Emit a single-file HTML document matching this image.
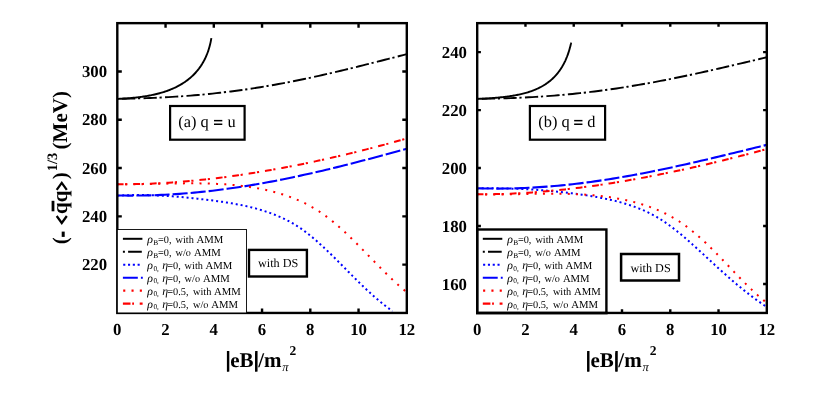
<!DOCTYPE html>
<html><head><meta charset="utf-8"><title>plot</title>
<style>html,body{margin:0;padding:0;background:#fff}svg{display:block;will-change:transform}text{font-family:"Liberation Serif",serif;text-rendering:geometricPrecision}</style></head>
<body>
<svg width="830" height="418" viewBox="0 0 830 418">
<rect x="0" y="0" width="830" height="418" fill="#fff"/>
<defs><clipPath id="cl"><rect x="117.30" y="23.15" width="289.50" height="289.80"/></clipPath><clipPath id="cr"><rect x="477.20" y="23.15" width="289.60" height="289.80"/></clipPath></defs>
<g clip-path="url(#cl)"><path d="M117.70 98.80L118.73 98.86L119.78 98.81L120.82 98.76L121.86 98.70L122.90 98.64L123.93 98.57L124.97 98.50L126.00 98.43L127.03 98.35L128.05 98.27L129.08 98.19L130.10 98.10L131.13 98.01L132.15 97.92L133.17 97.82L134.19 97.71L135.21 97.60L136.23 97.49L137.26 97.37L138.28 97.25L139.30 97.12L140.31 96.99L141.33 96.85L142.35 96.70L143.37 96.55L144.39 96.40L145.41 96.23L146.43 96.07L147.44 95.89L148.46 95.71L149.48 95.52L150.49 95.33L151.51 95.12L152.52 94.91L153.53 94.70L154.54 94.47L155.55 94.24L156.56 93.99L157.57 93.74L158.57 93.48L159.58 93.22L160.58 92.94L161.57 92.65L162.57 92.36L163.56 92.05L164.55 91.74L165.53 91.41L166.51 91.07L167.49 90.73L168.46 90.37L169.43 90.00L170.40 89.62L171.35 89.23L172.31 88.83L173.26 88.42L174.20 87.99L175.13 87.55L176.06 87.11L176.99 86.64L177.90 86.17L178.81 85.68L179.71 85.19L180.61 84.67L181.49 84.15L182.37 83.61L183.24 83.06L184.10 82.50L184.95 81.93L185.79 81.34L186.62 80.73L187.44 80.12L188.25 79.49L189.05 78.85L189.84 78.19L190.62 77.53L191.39 76.85L192.15 76.15L192.89 75.44L193.62 74.72L194.34 73.99L195.05 73.24L195.74 72.49L196.43 71.71L197.10 70.93L197.75 70.13L198.39 69.33L199.02 68.51L199.63 67.67L200.23 66.83L200.82 65.98L201.39 65.11L201.95 64.24L202.49 63.35L203.02 62.45L203.53 61.55L204.03 60.63L204.51 59.71L204.98 58.77L205.43 57.83L205.87 56.88L206.29 55.93L206.70 54.97L207.09 54.00L207.47 53.02L207.83 52.04L208.18 51.06L208.51 50.07L208.82 49.08L209.12 48.08L209.41 47.09L209.68 46.09L209.94 45.09L210.18 44.09L210.41 43.09L210.62 42.10L210.82 41.10L211.01 40.11L211.18 39.13L211.40 38.10" fill="none" stroke="#000" stroke-width="1.9"/>
<path d="M117.30 98.88L120.96 98.82L124.63 98.75L128.29 98.67L131.96 98.58L135.62 98.48L139.29 98.37L142.95 98.26L146.62 98.13L150.28 97.99L153.95 97.84L157.61 97.67L161.27 97.50L164.94 97.31L168.60 97.11L172.27 96.89L175.93 96.67L179.60 96.42L183.26 96.17L186.93 95.90L190.59 95.61L194.26 95.31L197.92 94.99L201.58 94.66L205.25 94.32L208.91 93.96L212.58 93.58L216.24 93.18L219.91 92.78L223.57 92.35L227.24 91.91L230.90 91.45L234.57 90.98L238.23 90.49L241.89 89.98L245.56 89.46L249.22 88.92L252.89 88.37L256.55 87.80L260.22 87.21L263.88 86.61L267.55 85.99L271.21 85.36L274.88 84.71L278.54 84.05L282.21 83.37L285.87 82.68L289.53 81.97L293.20 81.25L296.86 80.52L300.53 79.77L304.19 79.01L307.86 78.24L311.52 77.45L315.19 76.65L318.85 75.84L322.52 75.02L326.18 74.19L329.84 73.34L333.51 72.49L337.17 71.63L340.84 70.75L344.50 69.87L348.17 68.98L351.83 68.09L355.50 67.18L359.16 66.28L362.83 65.36L366.49 64.44L370.15 63.51L373.82 62.59L377.48 61.65L381.15 60.72L384.81 59.78L388.48 58.84L392.14 57.91L395.81 56.97L399.47 56.03L403.14 55.10L406.80 54.16" fill="none" stroke="#000" stroke-width="1.9" stroke-dasharray="13.25 2.75 2.2 3.32" stroke-dashoffset="16.8"/>
<path d="M117.48 195.67L119.07 195.58L120.66 195.49L122.25 195.41L123.83 195.34L125.42 195.28L127.00 195.22L128.58 195.17L130.16 195.13L131.74 195.09L133.32 195.06L134.89 195.04L136.47 195.03L138.04 195.02L139.61 195.02L141.19 195.02L142.76 195.03L144.32 195.05L145.89 195.07L147.46 195.10L149.03 195.14L150.59 195.18L152.15 195.22L153.72 195.28L155.28 195.33L156.84 195.40L158.40 195.47L159.97 195.54L161.53 195.62L163.09 195.71L164.64 195.80L166.20 195.89L167.76 195.99L169.32 196.09L170.88 196.20L172.43 196.32L173.99 196.43L175.55 196.56L177.11 196.68L178.66 196.81L180.22 196.95L181.78 197.09L183.33 197.23L184.89 197.38L186.45 197.53L188.00 197.68L189.56 197.84L191.12 198.00L192.68 198.16L194.23 198.33L195.79 198.50L197.35 198.67L198.91 198.85L200.47 199.03L202.03 199.21L203.59 199.40L205.15 199.59L206.72 199.78L208.28 199.97L209.84 200.16L211.41 200.36L212.97 200.56L214.54 200.77L216.10 200.98L217.67 201.19L219.23 201.41L220.80 201.63L222.36 201.85L223.93 202.08L225.49 202.32L227.05 202.56L228.61 202.81L230.17 203.07L231.73 203.33L233.28 203.60L234.84 203.87L236.39 204.16L237.94 204.45L239.49 204.75L241.04 205.05L242.58 205.37L244.12 205.70L245.66 206.03L247.19 206.37L248.73 206.73L250.26 207.09L251.78 207.46L253.30 207.85L254.82 208.24L256.34 208.65L257.85 209.07L259.36 209.50L260.86 209.94L262.36 210.39L263.85 210.86L265.34 211.34L266.83 211.83L268.31 212.34L269.78 212.86L271.25 213.39L272.72 213.94L274.18 214.50L275.63 215.08L277.08 215.67L278.52 216.28L279.95 216.90L281.37 217.54L282.79 218.19L284.20 218.86L285.60 219.55L287.00 220.25L288.38 220.97L289.76 221.70L291.12 222.45L292.48 223.22L293.83 224.01L295.16 224.81L296.49 225.63L297.80 226.47L299.11 227.32L300.40 228.19L301.69 229.08L302.96 229.99L304.23 230.90L305.48 231.84L306.73 232.78L307.97 233.74L309.20 234.71L310.42 235.70L311.63 236.69L312.84 237.69L314.04 238.71L315.23 239.73L316.42 240.76L317.60 241.80L318.78 242.85L319.95 243.90L321.11 244.96L322.27 246.02L323.42 247.09L324.57 248.16L325.72 249.24L326.86 250.33L328.00 251.42L329.13 252.51L330.26 253.60L331.39 254.70L332.51 255.80L333.64 256.91L334.75 258.02L335.87 259.13L336.99 260.24L338.10 261.36L339.21 262.47L340.32 263.59L341.43 264.71L342.54 265.83L343.64 266.95L344.75 268.07L345.86 269.19L346.96 270.31L348.07 271.43L349.18 272.55L350.28 273.67L351.39 274.79L352.50 275.90L353.61 277.02L354.72 278.13L355.84 279.24L356.96 280.35L358.07 281.45L359.19 282.56L360.32 283.66L361.44 284.75L362.57 285.84L363.71 286.93L364.84 288.01L365.98 289.09L367.13 290.17L368.28 291.24L369.43 292.30L370.59 293.36L371.75 294.41L372.92 295.46L374.09 296.50L375.27 297.53L376.46 298.56L377.65 299.57L378.85 300.59L380.05 301.59L381.26 302.59L382.48 303.58L383.70 304.56L384.94 305.53L386.18 306.49L387.42 307.44L388.68 308.39L389.94 309.32L391.22 310.24L392.50 311.16" fill="none" stroke="#0000ff" stroke-width="2.0" stroke-dasharray="2.0 2.96" stroke-dashoffset="0.25"/>
<path d="M117.30 195.42L120.96 195.49L124.63 195.55L128.29 195.58L131.96 195.59L135.62 195.58L139.29 195.55L142.95 195.49L146.62 195.42L150.28 195.33L153.95 195.21L157.61 195.08L161.27 194.92L164.94 194.74L168.60 194.55L172.27 194.33L175.93 194.10L179.60 193.84L183.26 193.57L186.93 193.27L190.59 192.96L194.26 192.63L197.92 192.28L201.58 191.91L205.25 191.52L208.91 191.12L212.58 190.69L216.24 190.25L219.91 189.79L223.57 189.31L227.24 188.82L230.90 188.31L234.57 187.78L238.23 187.23L241.89 186.67L245.56 186.09L249.22 185.50L252.89 184.89L256.55 184.26L260.22 183.62L263.88 182.97L267.55 182.30L271.21 181.61L274.88 180.91L278.54 180.20L282.21 179.47L285.87 178.73L289.53 177.98L293.20 177.21L296.86 176.43L300.53 175.64L304.19 174.84L307.86 174.02L311.52 173.19L315.19 172.36L318.85 171.51L322.52 170.65L326.18 169.78L329.84 168.90L333.51 168.01L337.17 167.11L340.84 166.21L344.50 165.29L348.17 164.37L351.83 163.44L355.50 162.50L359.16 161.56L362.83 160.60L366.49 159.64L370.15 158.68L373.82 157.71L377.48 156.74L381.15 155.76L384.81 154.77L388.48 153.78L392.14 152.79L395.81 151.80L399.47 150.80L403.14 149.80L406.80 148.79" fill="none" stroke="#0000ff" stroke-width="2.1" stroke-dasharray="15.1 3.0" stroke-dashoffset="17.1"/>
<path d="M117.57 184.19L119.19 184.22L120.82 184.24L122.44 184.25L124.07 184.26L125.69 184.26L127.32 184.27L128.95 184.27L130.58 184.26L132.21 184.25L133.84 184.24L135.47 184.23L137.10 184.21L138.73 184.19L140.37 184.17L142.00 184.14L143.63 184.12L145.27 184.09L146.90 184.06L148.54 184.03L150.17 184.00L151.81 183.96L153.45 183.93L155.08 183.89L156.72 183.86L158.36 183.82L160.00 183.79L161.63 183.75L163.27 183.72L164.91 183.68L166.55 183.65L168.19 183.61L169.83 183.58L171.47 183.55L173.11 183.52L174.75 183.49L176.39 183.46L178.03 183.44L179.67 183.41L181.31 183.39L182.95 183.38L184.59 183.36L186.23 183.35L187.87 183.34L189.51 183.33L191.15 183.33L192.79 183.33L194.43 183.33L196.07 183.34L197.71 183.35L199.35 183.37L200.99 183.39L202.63 183.41L204.27 183.45L205.91 183.48L207.55 183.52L209.19 183.57L210.83 183.62L212.47 183.68L214.11 183.74L215.74 183.81L217.38 183.88L219.02 183.97L220.65 184.06L222.29 184.15L223.93 184.26L225.56 184.37L227.20 184.48L228.83 184.61L230.47 184.74L232.10 184.88L233.73 185.03L235.36 185.19L237.00 185.36L238.63 185.53L240.26 185.71L241.89 185.91L243.52 186.11L245.15 186.32L246.77 186.54L248.40 186.77L250.03 187.01L251.65 187.27L253.28 187.53L254.90 187.80L256.52 188.08L258.14 188.38L259.76 188.68L261.38 189.00L262.99 189.33L264.60 189.67L266.21 190.02L267.82 190.38L269.42 190.76L271.02 191.15L272.61 191.55L274.20 191.96L275.79 192.39L277.37 192.83L278.95 193.28L280.52 193.75L282.08 194.23L283.64 194.72L285.20 195.23L286.75 195.75L288.29 196.29L289.83 196.84L291.36 197.41L292.88 197.99L294.39 198.59L295.90 199.20L297.40 199.83L298.89 200.47L300.38 201.13L301.85 201.81L303.32 202.50L304.78 203.21L306.23 203.94L307.67 204.68L309.10 205.44L310.52 206.22L311.93 207.01L313.33 207.82L314.72 208.65L316.10 209.50L317.47 210.36L318.83 211.24L320.18 212.14L321.52 213.05L322.85 213.97L324.17 214.91L325.49 215.87L326.79 216.84L328.09 217.82L329.38 218.81L330.66 219.82L331.93 220.84L333.20 221.87L334.46 222.91L335.71 223.96L336.96 225.02L338.20 226.10L339.43 227.18L340.66 228.27L341.88 229.37L343.10 230.48L344.31 231.59L345.52 232.71L346.72 233.84L347.91 234.98L349.10 236.12L350.29 237.27L351.47 238.42L352.65 239.57L353.83 240.74L355.00 241.90L356.17 243.07L357.34 244.24L358.50 245.42L359.66 246.59L360.82 247.77L361.97 248.95L363.13 250.13L364.28 251.31L365.43 252.49L366.58 253.67L367.73 254.85L368.88 256.03L370.02 257.21L371.17 258.39L372.32 259.57L373.46 260.74L374.61 261.92L375.76 263.09L376.91 264.26L378.06 265.43L379.21 266.59L380.36 267.75L381.52 268.91L382.67 270.07L383.83 271.22L385.00 272.37L386.16 273.52L387.33 274.66L388.50 275.79L389.67 276.93L390.85 278.05L392.03 279.17L393.22 280.29L394.41 281.40L395.60 282.51L396.80 283.61L398.01 284.70L399.22 285.79L400.43 286.87L401.66 287.94L402.88 289.01L404.12 290.06L405.36 291.12L406.61 292.16" fill="none" stroke="#ff0000" stroke-width="2.0" stroke-dasharray="2.0 6.27" stroke-dashoffset="0.75"/>
<path d="M117.30 184.17L120.96 184.19L124.63 184.19L128.29 184.18L131.96 184.14L135.62 184.08L139.29 184.00L142.95 183.90L146.62 183.78L150.28 183.64L153.95 183.48L157.61 183.31L161.27 183.11L164.94 182.90L168.60 182.67L172.27 182.42L175.93 182.15L179.60 181.87L183.26 181.57L186.93 181.26L190.59 180.93L194.26 180.58L197.92 180.22L201.58 179.84L205.25 179.44L208.91 179.03L212.58 178.61L216.24 178.17L219.91 177.72L223.57 177.25L227.24 176.77L230.90 176.27L234.57 175.76L238.23 175.24L241.89 174.70L245.56 174.15L249.22 173.59L252.89 173.01L256.55 172.43L260.22 171.83L263.88 171.21L267.55 170.59L271.21 169.95L274.88 169.30L278.54 168.64L282.21 167.96L285.87 167.28L289.53 166.58L293.20 165.87L296.86 165.15L300.53 164.42L304.19 163.68L307.86 162.92L311.52 162.16L315.19 161.38L318.85 160.59L322.52 159.79L326.18 158.98L329.84 158.16L333.51 157.33L337.17 156.49L340.84 155.64L344.50 154.77L348.17 153.90L351.83 153.01L355.50 152.12L359.16 151.21L362.83 150.29L366.49 149.36L370.15 148.42L373.82 147.47L377.48 146.51L381.15 145.54L384.81 144.55L388.48 143.56L392.14 142.55L395.81 141.53L399.47 140.51L403.14 139.47L406.80 138.41" fill="none" stroke="#ff0000" stroke-width="2.0" stroke-dasharray="6.75 1.7 2.15 5.95" stroke-dashoffset="0.5"/></g>
<rect x="117.30" y="23.15" width="289.50" height="289.80" fill="none" stroke="#000" stroke-width="2.4"/>
<path d="M165.55 23.15 v4.50 M165.55 312.95 v-4.50 M213.80 23.15 v4.50 M213.80 312.95 v-4.50 M262.05 23.15 v4.50 M262.05 312.95 v-4.50 M310.30 23.15 v4.50 M310.30 312.95 v-4.50 M358.55 23.15 v4.50 M358.55 312.95 v-4.50 M117.30 264.65 h4.50 M406.80 264.65 h-4.50 M117.30 216.35 h4.50 M406.80 216.35 h-4.50 M117.30 168.05 h4.50 M406.80 168.05 h-4.50 M117.30 119.75 h4.50 M406.80 119.75 h-4.50 M117.30 71.45 h4.50 M406.80 71.45 h-4.50 " stroke="#000" stroke-width="2.4" fill="none"/>
<g font-family="'Liberation Serif', serif" font-weight="bold" font-size="16.8px" fill="#000">
<text x="117.30" y="334.7" text-anchor="middle">0</text>
<text x="165.55" y="334.7" text-anchor="middle">2</text>
<text x="213.80" y="334.7" text-anchor="middle">4</text>
<text x="262.05" y="334.7" text-anchor="middle">6</text>
<text x="310.30" y="334.7" text-anchor="middle">8</text>
<text x="358.55" y="334.7" text-anchor="middle">10</text>
<text x="406.80" y="334.7" text-anchor="middle">12</text>
<text x="107.10" y="270.25" text-anchor="end">220</text>
<text x="107.10" y="221.95" text-anchor="end">240</text>
<text x="107.10" y="173.65" text-anchor="end">260</text>
<text x="107.10" y="125.35" text-anchor="end">280</text>
<text x="107.10" y="77.05" text-anchor="end">300</text>
</g>
<rect x="117.30" y="229.50" width="129.20" height="83.45" fill="#fff" stroke="#000" stroke-width="0.9"/>
<path d="M122.90 238.80 H142.40" stroke="#000" stroke-width="2.0"/>
<path d="M122.90 251.76 h2 M128.10 251.76 H141.80" stroke="#000" stroke-width="1.9"/>
<path d="M123.20 264.72 H142.40" stroke="#0000ff" stroke-width="2.1" stroke-dasharray="2.1 2.7"/>
<path d="M122.90 277.68 h14.9 M140.90 277.68 h1.9" stroke="#0000ff" stroke-width="2.1"/>
<path d="M123.20 290.64 H143.40" stroke="#ff0000" stroke-width="2.1" stroke-dasharray="2.1 6.2"/>
<path d="M122.90 303.60 h7.6 M132.20 303.60 h1.8 M139.70 303.60 h2.9" stroke="#ff0000" stroke-width="2.1"/>
<g font-family="'Liberation Serif', serif" font-size="10.3px" fill="#000">
<text x="147.30" y="243.10" font-style="italic" font-size="11.8px">ρ</text>
<text x="153.30" y="244.60" font-size="7.4px">B</text>
<text x="158.00" y="243.10">=0,</text>
<text x="175.50" y="243.10">with</text>
<text x="196.60" y="243.10" font-size="10.7px">AMM</text>
<text x="147.30" y="256.06" font-style="italic" font-size="11.8px">ρ</text>
<text x="153.30" y="257.56" font-size="7.4px">B</text>
<text x="158.00" y="256.06">=0,</text>
<text x="175.50" y="256.06">w/o</text>
<text x="194.00" y="256.06" font-size="10.7px">AMM</text>
<text x="147.30" y="269.02" font-style="italic" font-size="11.8px">ρ</text>
<text x="153.40" y="270.52" font-size="7.4px">0,</text>
<text x="162.30" y="269.02" font-style="italic" font-size="11.8px">η</text>
<text x="167.30" y="269.02">=0,</text>
<text x="184.60" y="269.02">with</text>
<text x="205.60" y="269.02" font-size="10.7px">AMM</text>
<text x="147.30" y="281.98" font-style="italic" font-size="11.8px">ρ</text>
<text x="153.40" y="283.48" font-size="7.4px">0,</text>
<text x="162.30" y="281.98" font-style="italic" font-size="11.8px">η</text>
<text x="167.30" y="281.98">=0,</text>
<text x="184.60" y="281.98">w/o</text>
<text x="203.00" y="281.98" font-size="10.7px">AMM</text>
<text x="147.30" y="294.94" font-style="italic" font-size="11.8px">ρ</text>
<text x="153.40" y="296.44" font-size="7.4px">0,</text>
<text x="162.30" y="294.94" font-style="italic" font-size="11.8px">η</text>
<text x="167.30" y="294.94">=0.5,</text>
<text x="193.00" y="294.94">with</text>
<text x="214.10" y="294.94" font-size="10.7px">AMM</text>
<text x="147.30" y="307.90" font-style="italic" font-size="11.8px">ρ</text>
<text x="153.40" y="309.40" font-size="7.4px">0,</text>
<text x="162.30" y="307.90" font-style="italic" font-size="11.8px">η</text>
<text x="167.30" y="307.90">=0.5,</text>
<text x="193.00" y="307.90">w/o</text>
<text x="211.30" y="307.90" font-size="10.7px">AMM</text>
</g>
<rect x="170.10" y="106.00" width="74.50" height="33.70" fill="#fff" stroke="#000" stroke-width="2.2"/><text x="178.30" y="126.60" font-family="'Liberation Serif', serif" font-size="16.4px" fill="#000">(a) q</text><rect x="214.00" y="119.9" width="8.3" height="1.5"/><rect x="214.00" y="123.5" width="8.3" height="1.5"/><text x="227.50" y="126.60" font-family="'Liberation Serif', serif" font-size="16.4px" fill="#000">u</text>
<rect x="249.00" y="249.90" width="57.90" height="26.60" fill="#fff" stroke="#000" stroke-width="2.4"/><text x="258.00" y="267.10" font-family="'Liberation Serif', serif" font-size="12.2px" fill="#000">with DS</text>
<g font-family="'Liberation Serif', serif" fill="#000"><text x="225.60" y="366.7" font-weight="bold" font-size="21px">|eB|/m</text><rect x="226.90" y="351.0" width="2.4" height="20.6"/><rect x="255.15" y="351.0" width="2.4" height="20.6"/><text x="282.20" y="371.0" font-style="italic" font-size="12.5px">π</text><text x="289.60" y="355.2" font-weight="bold" font-size="13.5px">2</text></g>
<g transform="translate(67.40 244.3) rotate(-90)" font-family="'Liberation Serif', serif" font-weight="bold" fill="#000"><text x="0" y="0" font-size="21px">(</text><rect x="7.4" y="-5.7" width="5.3" height="3.0"/><path d="M28.3 -10.7 L21.3 -5.65 L28.3 -0.6" fill="none" stroke="#000" stroke-width="2.2" stroke-linejoin="miter"/><text x="30.25" y="0" font-size="21px">qq</text><path d="M54.5 -10.7 L61.5 -5.65 L54.5 -0.6" fill="none" stroke="#000" stroke-width="2.2" stroke-linejoin="miter"/><text x="65.0" y="0" font-size="21px">)</text><rect x="33.0" y="-15.8" width="10.5" height="2.8"/><text x="73.0" y="-10.4" font-size="14.4px">1/3</text><text x="94.9" y="0" font-size="21px">(MeV)</text></g>
<g clip-path="url(#cr)"><path d="M477.70 98.80L478.73 98.85L479.75 98.82L480.76 98.78L481.78 98.73L482.79 98.68L483.80 98.63L484.81 98.58L485.81 98.52L486.82 98.46L487.82 98.40L488.82 98.33L489.83 98.26L490.83 98.19L491.83 98.11L492.83 98.03L493.83 97.95L494.84 97.87L495.84 97.78L496.84 97.69L497.84 97.60L498.85 97.50L499.85 97.40L500.86 97.30L501.86 97.19L502.87 97.08L503.87 96.96L504.88 96.84L505.89 96.72L506.89 96.59L507.90 96.46L508.91 96.32L509.91 96.17L510.92 96.02L511.93 95.86L512.93 95.70L513.94 95.53L514.94 95.35L515.94 95.17L516.95 94.98L517.95 94.78L518.94 94.57L519.94 94.36L520.93 94.13L521.93 93.90L522.92 93.66L523.90 93.41L524.89 93.15L525.87 92.88L526.84 92.60L527.81 92.31L528.78 92.00L529.75 91.69L530.70 91.37L531.66 91.03L532.61 90.68L533.55 90.32L534.48 89.95L535.41 89.56L536.34 89.16L537.25 88.75L538.16 88.33L539.07 87.89L539.96 87.44L540.85 86.97L541.72 86.49L542.59 86.00L543.45 85.49L544.30 84.97L545.15 84.43L545.98 83.88L546.80 83.31L547.61 82.73L548.41 82.13L549.20 81.52L549.98 80.89L550.75 80.25L551.50 79.59L552.25 78.92L552.98 78.24L553.70 77.54L554.40 76.82L555.10 76.09L555.78 75.35L556.45 74.59L557.10 73.82L557.74 73.03L558.37 72.23L558.99 71.42L559.59 70.60L560.17 69.76L560.74 68.91L561.30 68.05L561.85 67.18L562.38 66.29L562.89 65.40L563.39 64.50L563.88 63.59L564.35 62.67L564.81 61.74L565.26 60.80L565.68 59.86L566.10 58.91L566.50 57.95L566.89 57.00L567.26 56.03L567.62 55.07L567.97 54.10L568.30 53.14L568.62 52.17L568.93 51.20L569.23 50.24L569.51 49.28L569.78 48.32L570.04 47.37L570.28 46.43L570.52 45.49L570.74 44.57L570.96 43.65L571.10 42.60" fill="none" stroke="#000" stroke-width="1.9"/>
<path d="M477.20 98.74L480.87 98.72L484.53 98.68L488.20 98.64L491.86 98.58L495.53 98.51L499.19 98.43L502.86 98.34L506.53 98.23L510.19 98.11L513.86 97.98L517.52 97.83L521.19 97.67L524.86 97.50L528.52 97.31L532.19 97.11L535.85 96.90L539.52 96.67L543.18 96.42L546.85 96.16L550.52 95.89L554.18 95.60L557.85 95.30L561.51 94.98L565.18 94.65L568.85 94.30L572.51 93.94L576.18 93.57L579.84 93.17L583.51 92.77L587.17 92.34L590.84 91.91L594.51 91.46L598.17 90.99L601.84 90.51L605.50 90.01L609.17 89.50L612.84 88.98L616.50 88.44L620.17 87.89L623.83 87.32L627.50 86.74L631.16 86.15L634.83 85.54L638.50 84.92L642.16 84.28L645.83 83.64L649.49 82.98L653.16 82.31L656.83 81.62L660.49 80.93L664.16 80.22L667.82 79.50L671.49 78.77L675.15 78.03L678.82 77.28L682.49 76.52L686.15 75.75L689.82 74.97L693.48 74.19L697.15 73.39L700.82 72.59L704.48 71.77L708.15 70.96L711.81 70.13L715.48 69.30L719.14 68.46L722.81 67.62L726.48 66.77L730.14 65.92L733.81 65.06L737.47 64.20L741.14 63.34L744.81 62.47L748.47 61.61L752.14 60.74L755.80 59.87L759.47 59.01L763.13 58.14L766.80 57.27" fill="none" stroke="#000" stroke-width="1.9" stroke-dasharray="13.25 2.75 2.2 3.32" stroke-dashoffset="16.8"/>
<path d="M477.50 188.42L479.15 188.39L480.79 188.37L482.44 188.35L484.08 188.33L485.73 188.32L487.37 188.31L489.01 188.31L490.65 188.31L492.29 188.31L493.93 188.32L495.57 188.33L497.21 188.34L498.85 188.36L500.49 188.38L502.12 188.40L503.76 188.43L505.40 188.46L507.03 188.50L508.67 188.54L510.30 188.58L511.93 188.63L513.57 188.68L515.20 188.74L516.83 188.80L518.46 188.86L520.09 188.93L521.72 189.00L523.36 189.08L524.99 189.16L526.62 189.24L528.25 189.33L529.87 189.42L531.50 189.52L533.13 189.62L534.76 189.72L536.39 189.83L538.02 189.95L539.65 190.06L541.27 190.18L542.90 190.31L544.53 190.44L546.16 190.57L547.78 190.71L549.41 190.85L551.04 191.00L552.67 191.15L554.29 191.31L555.92 191.47L557.55 191.63L559.17 191.80L560.80 191.98L562.43 192.16L564.06 192.34L565.69 192.53L567.31 192.72L568.94 192.91L570.57 193.12L572.20 193.32L573.83 193.53L575.46 193.75L577.08 193.97L578.71 194.19L580.34 194.42L581.97 194.65L583.60 194.89L585.23 195.13L586.86 195.38L588.49 195.64L590.12 195.90L591.75 196.16L593.38 196.44L595.01 196.72L596.63 197.01L598.26 197.30L599.88 197.60L601.50 197.91L603.11 198.23L604.73 198.56L606.34 198.90L607.95 199.24L609.56 199.60L611.16 199.96L612.76 200.34L614.36 200.73L615.95 201.12L617.54 201.53L619.12 201.95L620.70 202.38L622.27 202.82L623.84 203.28L625.41 203.75L626.97 204.23L628.52 204.72L630.07 205.23L631.61 205.75L633.14 206.28L634.67 206.83L636.19 207.40L637.71 207.97L639.21 208.57L640.72 209.18L642.21 209.80L643.69 210.44L645.17 211.10L646.64 211.78L648.10 212.47L649.55 213.18L651.00 213.90L652.43 214.65L653.86 215.41L655.27 216.19L656.68 216.99L658.08 217.81L659.46 218.65L660.84 219.51L662.21 220.38L663.57 221.27L664.92 222.18L666.26 223.10L667.60 224.04L668.92 224.99L670.24 225.95L671.55 226.93L672.86 227.92L674.15 228.92L675.45 229.94L676.73 230.96L678.01 231.99L679.28 233.03L680.55 234.08L681.81 235.14L683.07 236.21L684.33 237.28L685.57 238.35L686.82 239.44L688.06 240.52L689.30 241.61L690.53 242.71L691.76 243.80L692.99 244.90L694.22 246.00L695.44 247.11L696.66 248.21L697.88 249.32L699.09 250.43L700.31 251.54L701.52 252.66L702.73 253.77L703.94 254.88L705.15 256.00L706.36 257.11L707.57 258.23L708.78 259.34L709.98 260.46L711.19 261.57L712.40 262.68L713.61 263.79L714.81 264.90L716.02 266.01L717.23 267.12L718.44 268.22L719.65 269.32L720.87 270.42L722.08 271.52L723.30 272.61L724.51 273.70L725.73 274.79L726.96 275.87L728.18 276.95L729.41 278.03L730.64 279.10L731.87 280.17L733.11 281.24L734.35 282.30L735.59 283.36L736.84 284.41L738.09 285.46L739.34 286.50L740.60 287.54L741.86 288.57L743.13 289.60L744.40 290.62L745.67 291.64L746.95 292.65L748.24 293.66L749.53 294.66L750.83 295.65L752.13 296.64L753.44 297.62L754.75 298.60L756.07 299.57L757.40 300.53L758.73 301.48L760.07 302.43L761.42 303.37L762.77 304.30L764.14 305.23L765.50 306.15L766.88 307.06" fill="none" stroke="#0000ff" stroke-width="2.0" stroke-dasharray="2.0 2.96" stroke-dashoffset="0.75"/>
<path d="M477.20 188.24L480.87 188.35L484.53 188.44L488.20 188.51L491.86 188.55L495.53 188.58L499.19 188.58L502.86 188.56L506.53 188.51L510.19 188.45L513.86 188.36L517.52 188.26L521.19 188.13L524.86 187.98L528.52 187.80L532.19 187.61L535.85 187.40L539.52 187.17L543.18 186.92L546.85 186.64L550.52 186.35L554.18 186.04L557.85 185.71L561.51 185.36L565.18 184.99L568.85 184.61L572.51 184.20L576.18 183.78L579.84 183.34L583.51 182.88L587.17 182.41L590.84 181.92L594.51 181.41L598.17 180.88L601.84 180.34L605.50 179.79L609.17 179.22L612.84 178.63L616.50 178.03L620.17 177.41L623.83 176.78L627.50 176.14L631.16 175.48L634.83 174.81L638.50 174.12L642.16 173.43L645.83 172.72L649.49 172.00L653.16 171.26L656.83 170.52L660.49 169.76L664.16 169.00L667.82 168.22L671.49 167.44L675.15 166.64L678.82 165.84L682.49 165.03L686.15 164.21L689.82 163.38L693.48 162.54L697.15 161.70L700.82 160.85L704.48 159.99L708.15 159.13L711.81 158.26L715.48 157.38L719.14 156.51L722.81 155.62L726.48 154.74L730.14 153.85L733.81 152.95L737.47 152.06L741.14 151.16L744.81 150.26L748.47 149.36L752.14 148.46L755.80 147.56L759.47 146.66L763.13 145.76L766.80 144.86" fill="none" stroke="#0000ff" stroke-width="2.1" stroke-dasharray="15.1 3.0" stroke-dashoffset="17.1"/>
<path d="M477.54 194.30L479.17 194.34L480.81 194.37L482.44 194.40L484.08 194.42L485.72 194.43L487.35 194.45L488.99 194.46L490.63 194.46L492.27 194.46L493.90 194.46L495.54 194.46L497.18 194.45L498.82 194.44L500.46 194.42L502.10 194.41L503.74 194.39L505.38 194.37L507.02 194.34L508.66 194.32L510.30 194.29L511.94 194.26L513.58 194.24L515.22 194.21L516.86 194.18L518.51 194.14L520.15 194.11L521.79 194.08L523.43 194.05L525.07 194.02L526.71 193.99L528.36 193.95L530.00 193.92L531.64 193.89L533.28 193.87L534.92 193.84L536.57 193.81L538.21 193.79L539.85 193.77L541.49 193.75L543.13 193.73L544.78 193.72L546.42 193.70L548.06 193.69L549.70 193.69L551.34 193.68L552.99 193.68L554.63 193.69L556.27 193.70L557.91 193.71L559.55 193.72L561.19 193.74L562.83 193.77L564.48 193.80L566.12 193.83L567.76 193.87L569.40 193.91L571.04 193.96L572.68 194.02L574.32 194.08L575.96 194.15L577.60 194.22L579.24 194.30L580.87 194.39L582.51 194.48L584.15 194.58L585.79 194.69L587.43 194.81L589.07 194.93L590.70 195.06L592.34 195.20L593.98 195.34L595.61 195.50L597.25 195.66L598.88 195.84L600.52 196.02L602.15 196.21L603.79 196.41L605.42 196.62L607.06 196.83L608.69 197.06L610.32 197.30L611.96 197.55L613.59 197.81L615.22 198.08L616.85 198.36L618.47 198.65L620.10 198.96L621.72 199.27L623.35 199.60L624.97 199.94L626.58 200.29L628.19 200.65L629.80 201.02L631.41 201.41L633.01 201.81L634.61 202.22L636.20 202.65L637.79 203.09L639.38 203.54L640.96 204.01L642.53 204.49L644.10 204.98L645.66 205.49L647.21 206.01L648.76 206.55L650.30 207.10L651.84 207.67L653.37 208.25L654.89 208.85L656.40 209.46L657.90 210.09L659.40 210.73L660.89 211.39L662.37 212.07L663.84 212.77L665.30 213.48L666.75 214.20L668.19 214.95L669.62 215.71L671.04 216.49L672.45 217.29L673.85 218.10L675.24 218.93L676.61 219.78L677.98 220.65L679.34 221.53L680.68 222.43L682.02 223.34L683.35 224.27L684.67 225.21L685.98 226.17L687.28 227.14L688.58 228.13L689.86 229.12L691.14 230.13L692.41 231.16L693.67 232.19L694.93 233.24L696.18 234.29L697.42 235.36L698.65 236.44L699.88 237.53L701.10 238.63L702.32 239.73L703.53 240.85L704.73 241.97L705.93 243.10L707.13 244.24L708.32 245.39L709.50 246.54L710.69 247.70L711.86 248.86L713.04 250.03L714.21 251.21L715.37 252.39L716.54 253.57L717.70 254.76L718.86 255.95L720.01 257.15L721.16 258.34L722.32 259.54L723.46 260.74L724.61 261.95L725.76 263.15L726.91 264.36L728.05 265.56L729.19 266.77L730.34 267.97L731.48 269.17L732.63 270.38L733.77 271.58L734.91 272.77L736.06 273.97L737.21 275.16L738.35 276.35L739.50 277.54L740.65 278.72L741.81 279.90L742.96 281.07L744.12 282.24L745.28 283.40L746.44 284.56L747.61 285.71L748.77 286.85L749.95 287.98L751.12 289.11L752.30 290.23L753.49 291.34L754.68 292.44L755.87 293.53L757.07 294.62L758.27 295.69L759.48 296.75L760.70 297.80L761.92 298.84L763.14 299.87L764.37 300.89L765.61 301.89L766.86 302.88" fill="none" stroke="#ff0000" stroke-width="2.0" stroke-dasharray="2.0 6.27" stroke-dashoffset="0.75"/>
<path d="M477.20 194.21L480.87 194.23L484.53 194.23L488.20 194.20L491.86 194.16L495.53 194.10L499.19 194.01L502.86 193.91L506.53 193.78L510.19 193.64L513.86 193.48L517.52 193.30L521.19 193.10L524.86 192.89L528.52 192.65L532.19 192.40L535.85 192.13L539.52 191.85L543.18 191.54L546.85 191.22L550.52 190.89L554.18 190.54L557.85 190.17L561.51 189.79L565.18 189.39L568.85 188.98L572.51 188.55L576.18 188.11L579.84 187.65L583.51 187.18L587.17 186.70L590.84 186.20L594.51 185.68L598.17 185.16L601.84 184.62L605.50 184.07L609.17 183.50L612.84 182.93L616.50 182.34L620.17 181.73L623.83 181.12L627.50 180.49L631.16 179.85L634.83 179.20L638.50 178.54L642.16 177.87L645.83 177.18L649.49 176.49L653.16 175.78L656.83 175.07L660.49 174.34L664.16 173.60L667.82 172.85L671.49 172.09L675.15 171.32L678.82 170.54L682.49 169.75L686.15 168.95L689.82 168.15L693.48 167.33L697.15 166.50L700.82 165.66L704.48 164.81L708.15 163.96L711.81 163.09L715.48 162.21L719.14 161.33L722.81 160.44L726.48 159.53L730.14 158.62L733.81 157.70L737.47 156.77L741.14 155.83L744.81 154.89L748.47 153.93L752.14 152.97L755.80 152.00L759.47 151.01L763.13 150.02L766.80 149.02" fill="none" stroke="#ff0000" stroke-width="2.0" stroke-dasharray="6.75 1.7 2.15 5.95" stroke-dashoffset="0.5"/></g>
<rect x="477.20" y="23.15" width="289.60" height="289.80" fill="none" stroke="#000" stroke-width="2.4"/>
<path d="M525.47 23.15 v3.70 M525.47 312.95 v-3.70 M573.73 23.15 v3.70 M573.73 312.95 v-3.70 M622.00 23.15 v3.70 M622.00 312.95 v-3.70 M670.27 23.15 v3.70 M670.27 312.95 v-3.70 M718.53 23.15 v3.70 M718.53 312.95 v-3.70 M477.20 283.97 h3.70 M766.80 283.97 h-3.70 M477.20 226.01 h3.70 M766.80 226.01 h-3.70 M477.20 168.05 h3.70 M766.80 168.05 h-3.70 M477.20 110.09 h3.70 M766.80 110.09 h-3.70 M477.20 52.13 h3.70 M766.80 52.13 h-3.70 " stroke="#000" stroke-width="2.4" fill="none"/>
<g font-family="'Liberation Serif', serif" font-weight="bold" font-size="16.8px" fill="#000">
<text x="477.20" y="334.7" text-anchor="middle">0</text>
<text x="525.47" y="334.7" text-anchor="middle">2</text>
<text x="573.73" y="334.7" text-anchor="middle">4</text>
<text x="622.00" y="334.7" text-anchor="middle">6</text>
<text x="670.27" y="334.7" text-anchor="middle">8</text>
<text x="718.53" y="334.7" text-anchor="middle">10</text>
<text x="766.80" y="334.7" text-anchor="middle">12</text>
<text x="467.00" y="289.57" text-anchor="end">160</text>
<text x="467.00" y="231.61" text-anchor="end">180</text>
<text x="467.00" y="173.65" text-anchor="end">200</text>
<text x="467.00" y="115.69" text-anchor="end">220</text>
<text x="467.00" y="57.73" text-anchor="end">240</text>
</g>
<rect x="477.20" y="229.50" width="129.20" height="83.45" fill="#fff" stroke="#000" stroke-width="2.4"/>
<path d="M477.20 229.50 V312.95 H606.40" fill="none" stroke="#000" stroke-width="2.4" stroke-linecap="square"/>
<path d="M482.80 238.80 H502.30" stroke="#000" stroke-width="2.0"/>
<path d="M482.80 251.76 h2 M488.00 251.76 H501.70" stroke="#000" stroke-width="1.9"/>
<path d="M483.10 264.72 H502.30" stroke="#0000ff" stroke-width="2.1" stroke-dasharray="2.1 2.7"/>
<path d="M482.80 277.68 h14.9 M500.80 277.68 h1.9" stroke="#0000ff" stroke-width="2.1"/>
<path d="M483.10 290.64 H503.30" stroke="#ff0000" stroke-width="2.1" stroke-dasharray="2.1 6.2"/>
<path d="M482.80 303.60 h7.6 M492.10 303.60 h1.8 M499.60 303.60 h2.9" stroke="#ff0000" stroke-width="2.1"/>
<g font-family="'Liberation Serif', serif" font-size="10.3px" fill="#000">
<text x="507.20" y="243.10" font-style="italic" font-size="11.8px">ρ</text>
<text x="513.20" y="244.60" font-size="7.4px">B</text>
<text x="517.90" y="243.10">=0,</text>
<text x="535.40" y="243.10">with</text>
<text x="556.50" y="243.10" font-size="10.7px">AMM</text>
<text x="507.20" y="256.06" font-style="italic" font-size="11.8px">ρ</text>
<text x="513.20" y="257.56" font-size="7.4px">B</text>
<text x="517.90" y="256.06">=0,</text>
<text x="535.40" y="256.06">w/o</text>
<text x="553.90" y="256.06" font-size="10.7px">AMM</text>
<text x="507.20" y="269.02" font-style="italic" font-size="11.8px">ρ</text>
<text x="513.30" y="270.52" font-size="7.4px">0,</text>
<text x="522.20" y="269.02" font-style="italic" font-size="11.8px">η</text>
<text x="527.20" y="269.02">=0,</text>
<text x="544.50" y="269.02">with</text>
<text x="565.50" y="269.02" font-size="10.7px">AMM</text>
<text x="507.20" y="281.98" font-style="italic" font-size="11.8px">ρ</text>
<text x="513.30" y="283.48" font-size="7.4px">0,</text>
<text x="522.20" y="281.98" font-style="italic" font-size="11.8px">η</text>
<text x="527.20" y="281.98">=0,</text>
<text x="544.50" y="281.98">w/o</text>
<text x="562.90" y="281.98" font-size="10.7px">AMM</text>
<text x="507.20" y="294.94" font-style="italic" font-size="11.8px">ρ</text>
<text x="513.30" y="296.44" font-size="7.4px">0,</text>
<text x="522.20" y="294.94" font-style="italic" font-size="11.8px">η</text>
<text x="527.20" y="294.94">=0.5,</text>
<text x="552.90" y="294.94">with</text>
<text x="574.00" y="294.94" font-size="10.7px">AMM</text>
<text x="507.20" y="307.90" font-style="italic" font-size="11.8px">ρ</text>
<text x="513.30" y="309.40" font-size="7.4px">0,</text>
<text x="522.20" y="307.90" font-style="italic" font-size="11.8px">η</text>
<text x="527.20" y="307.90">=0.5,</text>
<text x="552.90" y="307.90">w/o</text>
<text x="571.20" y="307.90" font-size="10.7px">AMM</text>
</g>
<rect x="529.90" y="106.00" width="75.20" height="33.70" fill="#fff" stroke="#000" stroke-width="2.2"/><text x="538.30" y="126.60" font-family="'Liberation Serif', serif" font-size="16.4px" fill="#000">(b) q</text><rect x="574.15" y="119.9" width="8.3" height="1.5"/><rect x="574.15" y="123.5" width="8.3" height="1.5"/><text x="587.30" y="126.60" font-family="'Liberation Serif', serif" font-size="16.4px" fill="#000">d</text>
<rect x="621.10" y="254.00" width="57.90" height="26.50" fill="#fff" stroke="#000" stroke-width="2.5"/><text x="630.40" y="271.60" font-family="'Liberation Serif', serif" font-size="12.2px" fill="#000">with DS</text>
<g font-family="'Liberation Serif', serif" fill="#000"><text x="585.80" y="366.7" font-weight="bold" font-size="21px">|eB|/m</text><rect x="587.10" y="351.0" width="2.4" height="20.6"/><rect x="615.35" y="351.0" width="2.4" height="20.6"/><text x="642.40" y="371.0" font-style="italic" font-size="12.5px">π</text><text x="649.80" y="355.2" font-weight="bold" font-size="13.5px">2</text></g>
</svg>
</body></html>
